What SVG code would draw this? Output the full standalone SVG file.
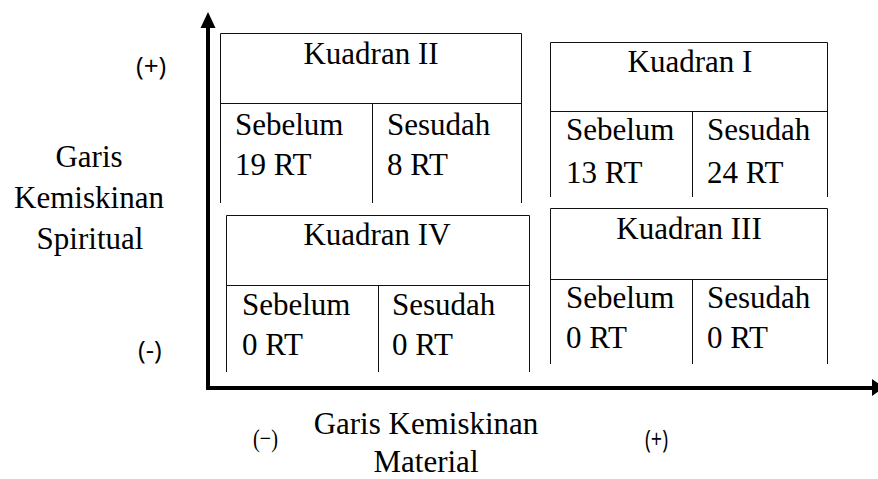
<svg xmlns="http://www.w3.org/2000/svg" width="878" height="479" viewBox="0 0 878 479">
<defs>
<style>
.box{fill:none;stroke:#111;stroke-width:1}
.ax{stroke:#000;stroke-width:4;fill:none}
</style>
</defs>
<rect width="878" height="479" fill="#fff"/>
<g id="axes">
<path class="ax" d="M208,26 V390"/>
<path class="ax" d="M206,388 H872"/>
<polygon points="208,12 200.5,28 215.5,28" fill="#000"/>
<polygon points="884,387.5 872,379 872,396" fill="#000"/>
</g>
<g font-family="Liberation Serif" font-size="31" fill="#000">
<g id="kuadran2">
<path class="box" d="M220.5,203 V33.5 H521.5 V203 M220.5,103.5 H521.5 M372.5,103.5 V203"/>
<text x="371" y="64" text-anchor="middle">Kuadran II</text>
<text x="235" y="135">Sebelum</text>
<text x="235" y="175">19 RT</text>
<text x="387" y="135">Sesudah</text>
<text x="387" y="175">8 RT</text>
</g>
<g id="kuadran1">
<path class="box" d="M550.5,197 V42.5 H827.5 V197 M550.5,111.5 H827.5 M692.5,111.5 V197"/>
<text x="690" y="72" text-anchor="middle">Kuadran I</text>
<text x="566" y="140">Sebelum</text>
<text x="566" y="183">13 RT</text>
<text x="707" y="140">Sesudah</text>
<text x="707" y="183">24 RT</text>
</g>
<g id="kuadran4">
<path class="box" d="M226.5,372 V215.5 H529.5 V372 M226.5,285.5 H529.5 M378.5,285.5 V372"/>
<text x="377" y="245" text-anchor="middle">Kuadran IV</text>
<text x="242" y="315">Sebelum</text>
<text x="242" y="355">0 RT</text>
<text x="392" y="315">Sesudah</text>
<text x="392" y="355">0 RT</text>
</g>
<g id="kuadran3">
<path class="box" d="M550.5,364 V208.5 H827.5 V364 M550.5,279.5 H827.5 M692.5,279.5 V364"/>
<text x="689" y="239" text-anchor="middle">Kuadran III</text>
<text x="566" y="308">Sebelum</text>
<text x="566" y="348">0 RT</text>
<text x="707" y="308">Sesudah</text>
<text x="707" y="348">0 RT</text>
</g>
<g id="label-y">
<text x="89" y="167" text-anchor="middle">Garis</text>
<text x="89" y="208" text-anchor="middle">Kemiskinan</text>
<text x="90" y="249" text-anchor="middle">Spiritual</text>
</g>
<g id="label-x">
<text x="253" y="447" font-size="26" textLength="25" lengthAdjust="spacingAndGlyphs">(−)</text>
<text x="426" y="434" text-anchor="middle">Garis Kemiskinan</text>
<text x="426" y="472" text-anchor="middle">Material</text>
</g>
</g>
<g id="signs" font-family="Open Sans" font-size="26" fill="#000">
<text x="136" y="75">(+)</text>
<text x="138" y="359">(-)</text>
<text x="645" y="448" textLength="23" lengthAdjust="spacingAndGlyphs">(+)</text>
</g>
</svg>
